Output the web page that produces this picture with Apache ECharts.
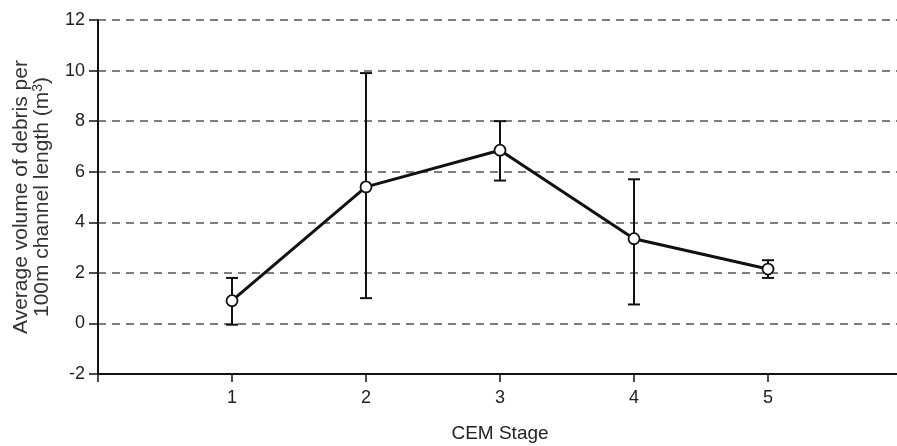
<!DOCTYPE html>
<html><head><meta charset="utf-8">
<script src="https://cdn.jsdelivr.net/npm/echarts@6/dist/echarts.min.js"></script>
<style>html,body{margin:0;padding:0;background:#fff}#c{width:897px;height:446px}</style>
</head><body><div id="c"></div>
<script>
const stages = [1, 2, 3, 4, 5];
const means = [0.9, 5.4, 6.85, 3.35, 2.15];
const lower = [-0.05, 1.0, 5.65, 0.75, 1.8];
const upper = [1.8, 9.9, 8.0, 5.7, 2.5];
const yTicks = [-2, 0, 2, 4, 6, 8, 10, 12];

const chart = echarts.init(document.getElementById('c'));
const font = 'Liberation Sans, Arial, sans-serif';
chart.setOption({
  animation: false,
  grid: {left: 98, width: 804, top: 20, bottom: 72, containLabel: false, outerBoundsMode: 'none'},
  xAxis: {
    type: 'value', min: 0, max: 6, interval: 1,
    name: 'CEM Stage', nameLocation: 'middle', nameGap: 50,
    nameTextStyle: {fontFamily: font, fontSize: 19, color: '#222'},
    axisLine: {onZero: false, lineStyle: {color: '#111', width: 2}},
    axisTick: {length: 8, lineStyle: {color: '#111', width: 1.5}},
    axisLabel: {fontFamily: font, fontSize: 18, color: '#222', margin: 15,
      formatter: v => (v >= 1 && v <= 5 ? String(v) : '')},
    splitLine: {show: false}
  },
  yAxis: {
    type: 'value', min: yTicks[0], max: yTicks[yTicks.length - 1], interval: 2,
    name: '{t|Average volume of debris per}\n{t|100m channel length (m}{sup|3}{t|)}',
    nameLocation: 'middle', nameGap: 45, nameRotate: 90,
    nameTextStyle: {
      fontFamily: font, fontSize: 21, color: '#333',
      rich: {
        t: {fontFamily: font, fontSize: 21, color: '#333', lineHeight: 21},
        sup: {fontFamily: font, fontSize: 14, color: '#333', lineHeight: 21, padding: [0, 0, 9, 0]}
      }
    },
    axisLine: {show: true, lineStyle: {color: '#111', width: 2}},
    axisTick: {show: true, length: 9, lineStyle: {color: '#111', width: 1.5}},
    axisLabel: {fontFamily: font, fontSize: 18, color: '#222', margin: 13},
    splitLine: {show: true, lineStyle: {color: '#555', width: 1.6, type: [8, 6]}}
  },
  series: [
    {
      type: 'custom',
      renderItem: function (params, api) {
        const x = api.value(0);
        const p1 = api.coord([x, api.value(1)]);
        const p2 = api.coord([x, api.value(2)]);
        const hw = 6;
        const st = {stroke: '#111', lineWidth: 2};
        return {type: 'group', children: [
          {type: 'line', shape: {x1: p1[0], y1: p1[1], x2: p2[0], y2: p2[1]}, style: st},
          {type: 'line', shape: {x1: p1[0] - hw, y1: p1[1], x2: p1[0] + hw, y2: p1[1]}, style: st},
          {type: 'line', shape: {x1: p2[0] - hw, y1: p2[1], x2: p2[0] + hw, y2: p2[1]}, style: st}
        ]};
      },
      data: stages.map((s, i) => [s, lower[i], upper[i]]),
      z: 2
    },
    {
      type: 'line',
      data: stages.map((s, i) => [s, means[i]]),
      symbol: 'circle', symbolSize: 11,
      lineStyle: {color: '#111', width: 3},
      itemStyle: {color: '#fff', borderColor: '#111', borderWidth: 1.8},
      z: 3
    }
  ]
});
</script></body></html>
